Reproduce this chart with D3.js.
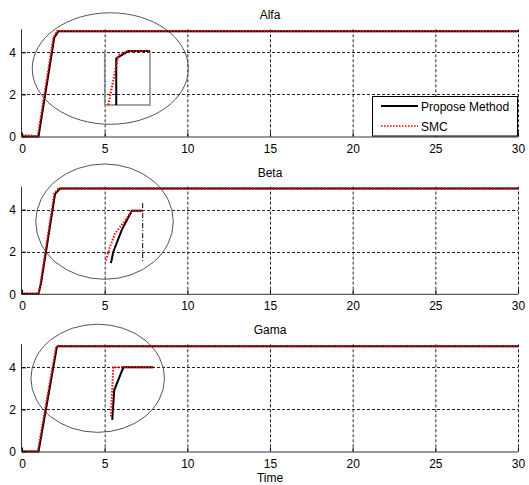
<!DOCTYPE html>
<html><head><meta charset="utf-8">
<script src="https://cdn.jsdelivr.net/npm/d3@7"></script>
<style>body{margin:0;background:#fff}svg{display:block}text{font-family:"Liberation Sans",Arial,sans-serif;fill:#000}</style>
</head><body><svg id="c" width="529" height="485"></svg>
<script>
// ---- data ----
const titles = ["Alfa", "Beta", "Gama"];
const xTicks = [0, 5, 10, 15, 20, 25, 30];
const yTicks = [0, 2, 4];
const seriesNames = ["Propose Method", "SMC"];

// main responses [time, value]
const alfaPropose = [[0,0],[1.0,0],[1.95,4.7],[2.2,5],[30,5]];
const alfaSMC     = [[0,0.06],[0.5,0.05],[0.95,0],[1.9,4.7],[2.1,5],[30,5]];
const betaPropose = [[0,0],[1.0,0],[1.15,0.5],[2.0,4.75],[2.3,5],[30,5]];
const betaSMC     = [[0,0],[1.0,0],[1.1,0.4],[1.95,4.75],[2.2,5],[30,5]];
const gamaPropose = [[0,0],[1.0,0],[2.1,4.93],[2.15,5],[30,5]];
const gamaSMC     = [[0,0],[0.95,0],[2.05,4.93],[2.1,5],[30,5]];

// zoom insets (drawn in axes units)
const alfaInsetPropose = [[5.70,1.5],[5.70,3.71],[6.43,4.06],[7.74,4.06]];
const alfaInsetSMC     = [[5.22,1.5],[5.83,3.87],[6.43,4.06],[7.74,4.06]];
const alfaInsetBox     = [[5.0,1.5],[7.74,4.05]];
const betaInsetPropose = [[5.38,1.46],[5.52,1.99],[6.03,3.03],[6.64,3.95],[7.30,3.95]];
const betaInsetSMC     = [[5.08,1.59],[5.32,2.23],[5.63,2.87],[6.23,3.47],[6.64,3.95],[7.30,3.95]];
const betaInsetMarker  = [[7.30,4.31],[7.30,1.46]];
const gamaInsetPropose = [[5.46,1.50],[5.58,2.92],[6.13,4.0],[7.94,4.0]];
const gamaInsetSMC     = [[5.38,1.66],[5.52,4.0],[7.94,4.0]];

// annotation ellipses [cx, cy, rx, ry] in axes units
const alfaEllipse = [5.34, 3.23, 4.72, 2.65];
const betaEllipse = [4.99, 3.43, 4.16, 2.74];
const gamaEllipse = [4.58, 3.48, 4.04, 2.57];

const panels = [
  {title: titles[0], prop: alfaPropose, smc: alfaSMC, iProp: alfaInsetPropose, iSmc: alfaInsetSMC, box: alfaInsetBox, ell: alfaEllipse, legend: true},
  {title: titles[1], prop: betaPropose, smc: betaSMC, iProp: betaInsetPropose, iSmc: betaInsetSMC, marker: betaInsetMarker, ell: betaEllipse},
  {title: titles[2], prop: gamaPropose, smc: gamaSMC, iProp: gamaInsetPropose, iSmc: gamaInsetSMC, ell: gamaEllipse}
];

// ---- layout ----
const svg = d3.select("#c");
const L = 22, R = 518, H = 105.2;
const tops = [31.3, 188.6, 346.3];
const x = d3.scaleLinear().domain([0, 30]).range([L, R]);
const fmt = d3.format("d");

panels.forEach((p, i) => {
  const top = tops[i], bot = top + H;
  const y = d3.scaleLinear().domain([0, 5]).range([bot, top]);
  const g = svg.append("g");
  const line = d3.line().x(d => x(d[0])).y(d => y(d[1]));

  // grid
  g.selectAll(".gx").data(xTicks.slice(1)).join("line")
    .attr("x1", d => x(d) + 0.5).attr("x2", d => x(d) + 0.5)
    .attr("y1", top - 2).attr("y2", bot)
    .attr("stroke", "#222").attr("stroke-width", 1).attr("stroke-dasharray", "3,2");
  g.selectAll(".gy").data(yTicks.slice(1)).join("line")
    .attr("x1", L).attr("x2", R)
    .attr("y1", d => Math.round(y(d)) + 0.5).attr("y2", d => Math.round(y(d)) + 0.5)
    .attr("stroke", "#222").attr("stroke-width", 1).attr("stroke-dasharray", "3,2");

  // ellipse
  g.append("ellipse")
    .attr("cx", x(p.ell[0])).attr("cy", y(p.ell[1]))
    .attr("rx", x(p.ell[2]) - x(0)).attr("ry", y(0) - y(p.ell[3]))
    .attr("fill", "none").attr("stroke", "#555").attr("stroke-width", 1);

  // inset box
  if (p.box) {
    g.append("path")
      .attr("d", line([[p.box[0][0], p.box[1][1]], [p.box[0][0], p.box[0][1]], [p.box[1][0], p.box[0][1]], [p.box[1][0], p.box[1][1]]]))
      .attr("fill", "none").attr("stroke", "#888").attr("stroke-width", 1.5);
  }
  if (p.marker) {
    g.append("path").attr("d", line(p.marker))
      .attr("fill", "none").attr("stroke", "#000").attr("stroke-width", 1).attr("stroke-dasharray", "5,2,1,2");
  }
  // inset curves
  g.append("path").attr("d", line(p.iProp)).attr("fill", "none").attr("stroke", "#000").attr("stroke-width", 2);
  g.append("path").attr("d", line(p.iSmc)).attr("fill", "none").attr("stroke", "#f00").attr("stroke-width", 2).attr("stroke-dasharray", "1.5,1.5");

  // main curves
  g.append("path").attr("d", line(p.prop)).attr("fill", "none").attr("stroke", "#000").attr("stroke-width", 2);
  g.append("path").attr("d", line(p.smc)).attr("fill", "none").attr("stroke", "#f00").attr("stroke-width", 2).attr("stroke-dasharray", "1.5,1.5");

  // axes
  const xa = g.append("g").attr("transform", `translate(0,${bot})`)
    .call(d3.axisBottom(x).tickValues(xTicks).tickFormat(fmt).tickSize(-4).tickPadding(8));
  const ya = g.append("g").attr("transform", `translate(${L},0)`)
    .call(d3.axisLeft(y).tickValues(yTicks).tickFormat(fmt).tickSize(-4).tickPadding(6));
  [xa, ya].forEach(a => {
    a.select(".domain").remove();
    a.selectAll("line").attr("stroke", "#000");
    a.selectAll("text").style("font-size", "12px").style("font-family", "'Liberation Sans',Arial,sans-serif").attr("fill", "#222");
  });
  ya.selectAll("text").attr("dy", "0.35em");
  g.append("line").attr("x1", L - 0.5).attr("x2", R).attr("y1", bot + 0.5).attr("y2", bot + 0.5).attr("stroke", "#333").attr("stroke-width", 1);
  g.append("line").attr("x1", L - 0.5).attr("x2", L - 0.5).attr("y1", top - 2).attr("y2", bot + 0.5).attr("stroke", "#333").attr("stroke-width", 1);

  // title
  g.append("text").attr("x", (L + R) / 2).attr("y", top - 12).attr("text-anchor", "middle")
    .style("font-size", "12px").text(p.title);

  // legend
  if (p.legend) {
    const lg = g.append("g");
    lg.append("rect").attr("x", 372.5).attr("y", 96.5).attr("width", 145).attr("height", 39.5)
      .attr("fill", "#fff").attr("stroke", "#000").attr("stroke-width", 1);
    const styles = [{c: "#000", d: null}, {c: "#f00", d: "1.5,1.5"}];
    seriesNames.forEach((n, k) => {
      const yy = 106 + k * 20;
      const l = lg.append("line").attr("x1", 381).attr("x2", 418).attr("y1", yy).attr("y2", yy)
        .attr("stroke", styles[k].c).attr("stroke-width", k === 0 ? 2 : 1.5);
      if (styles[k].d) l.attr("stroke-dasharray", styles[k].d);
      lg.append("text").attr("x", 421).attr("y", yy + 4.5).style("font-size", "12px").text(n);
    });
  }
});

svg.append("text").attr("x", (L + R) / 2).attr("y", 482).attr("text-anchor", "middle")
  .style("font-size", "12px").text("Time");
</script></body></html>
